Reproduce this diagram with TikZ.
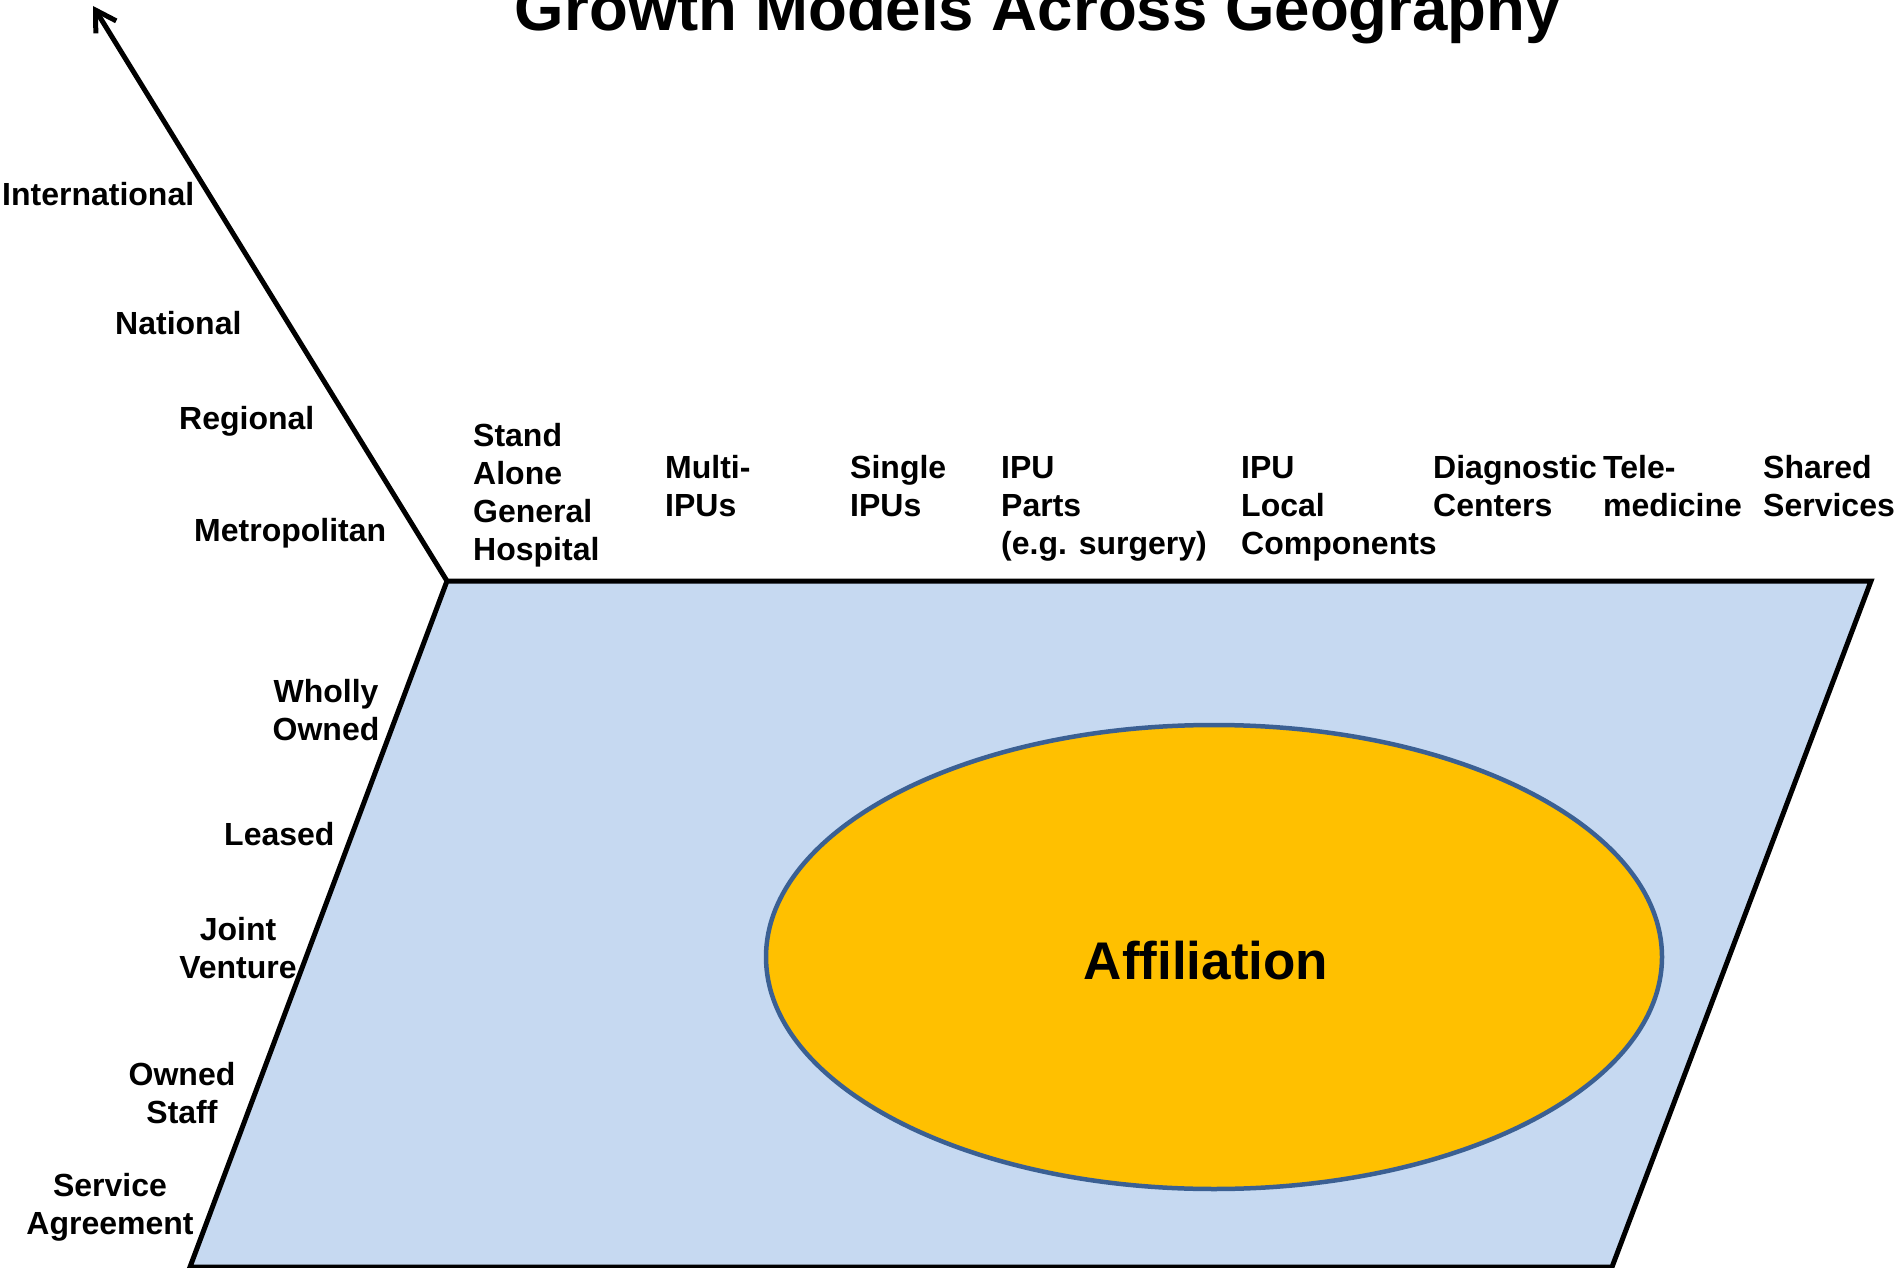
\documentclass[tikz,border=0pt]{standalone}
\usepackage{fontspec}
\setmainfont{Liberation Sans}
\usetikzlibrary{arrows.meta,shapes.geometric}
\definecolor{planeblue}{HTML}{C6D9F1}
\definecolor{affgold}{HTML}{FFC000}
\definecolor{affedge}{HTML}{3B6093}
\begin{document}
\begin{tikzpicture}[x=1pt,y=-1pt,
  lbl/.style={font=\fontsize{32}{38}\selectfont\bfseries, inner sep=0pt, align=left, anchor=base west},
  clbl/.style={font=\fontsize{32}{38}\selectfont\bfseries, inner sep=0pt, align=center, anchor=base},
  edge/.style={line width=5pt, draw=black}]
\useasboundingbox (0,0) rectangle (1899,1268);
\clip (0,0) rectangle (1899,1268);
% corners
\coordinate (tl) at (447,581);
\coordinate (tr) at (1871,581);
\coordinate (br) at (1612,1267);
\coordinate (bl) at (190,1267);
\coordinate (tip) at (93,6);
% plane
\draw[edge, fill=planeblue] (bl) -- (tl) -- (tr) -- (br) -- cycle;
% vertical axis arrow
\draw[edge, -{Straight Barb[length=20pt,width=24pt]}] (tl) -- (tip);
% ellipse
\node[ellipse, draw=affedge, fill=affgold, line width=4.5pt, minimum width=896pt, minimum height=464pt, inner sep=0pt] (affil) at (1214,957) {};
\node[font=\fontsize{53}{60}\selectfont\bfseries, inner sep=0pt, anchor=base] (afftxt) at (1206,979) {Affiliation};
% title
\node[font=\fontsize{63.6}{70}\selectfont\bfseries, inner sep=0pt, anchor=base] (title) at (1038,30.5) {Growth Models Across Geography};
% geography labels
\node[lbl] (intl) at (2,206) {International};
\node[lbl] (natl) at (115,334) {National};
\node[lbl] (regl) at (179,429) {Regional};
\node[lbl] (metro) at (194,541) {Metropolitan};
% ownership labels (anchor = baseline of last line)
\node[clbl] (wholly) at (326,740) {Wholly\\Owned};
\node[lbl] (leased) at (224,845) {Leased};
\node[clbl] (jv) at (238,978.5) {Joint\\Venture};
\node[clbl] (staff) at (182,1123) {Owned\\Staff};
\node[clbl] (sa) at (110,1234.5) {Service\\Agreement};
% model labels (anchor = baseline of last line)
\node[lbl] (sagh) at (473,560) {Stand\\Alone\\General\\Hospital};
\node[lbl] (multi) at (665,516) {Multi-\\IPUs};
\node[lbl] (single) at (850,516) {Single\\IPUs};
\node[lbl] (parts) at (1001,554) {IPU\\Parts\\(e.g. surgery)};
\node[lbl] (local) at (1241,554) {IPU\\Local\\Components};
\node[lbl] (diag) at (1433,516) {Diagnostic\\Centers};
\node[lbl] (tele) at (1603,516) {Tele-\\medicine};
\node[lbl] (shared) at (1763,516) {Shared\\Services};
\end{tikzpicture}
\end{document}
